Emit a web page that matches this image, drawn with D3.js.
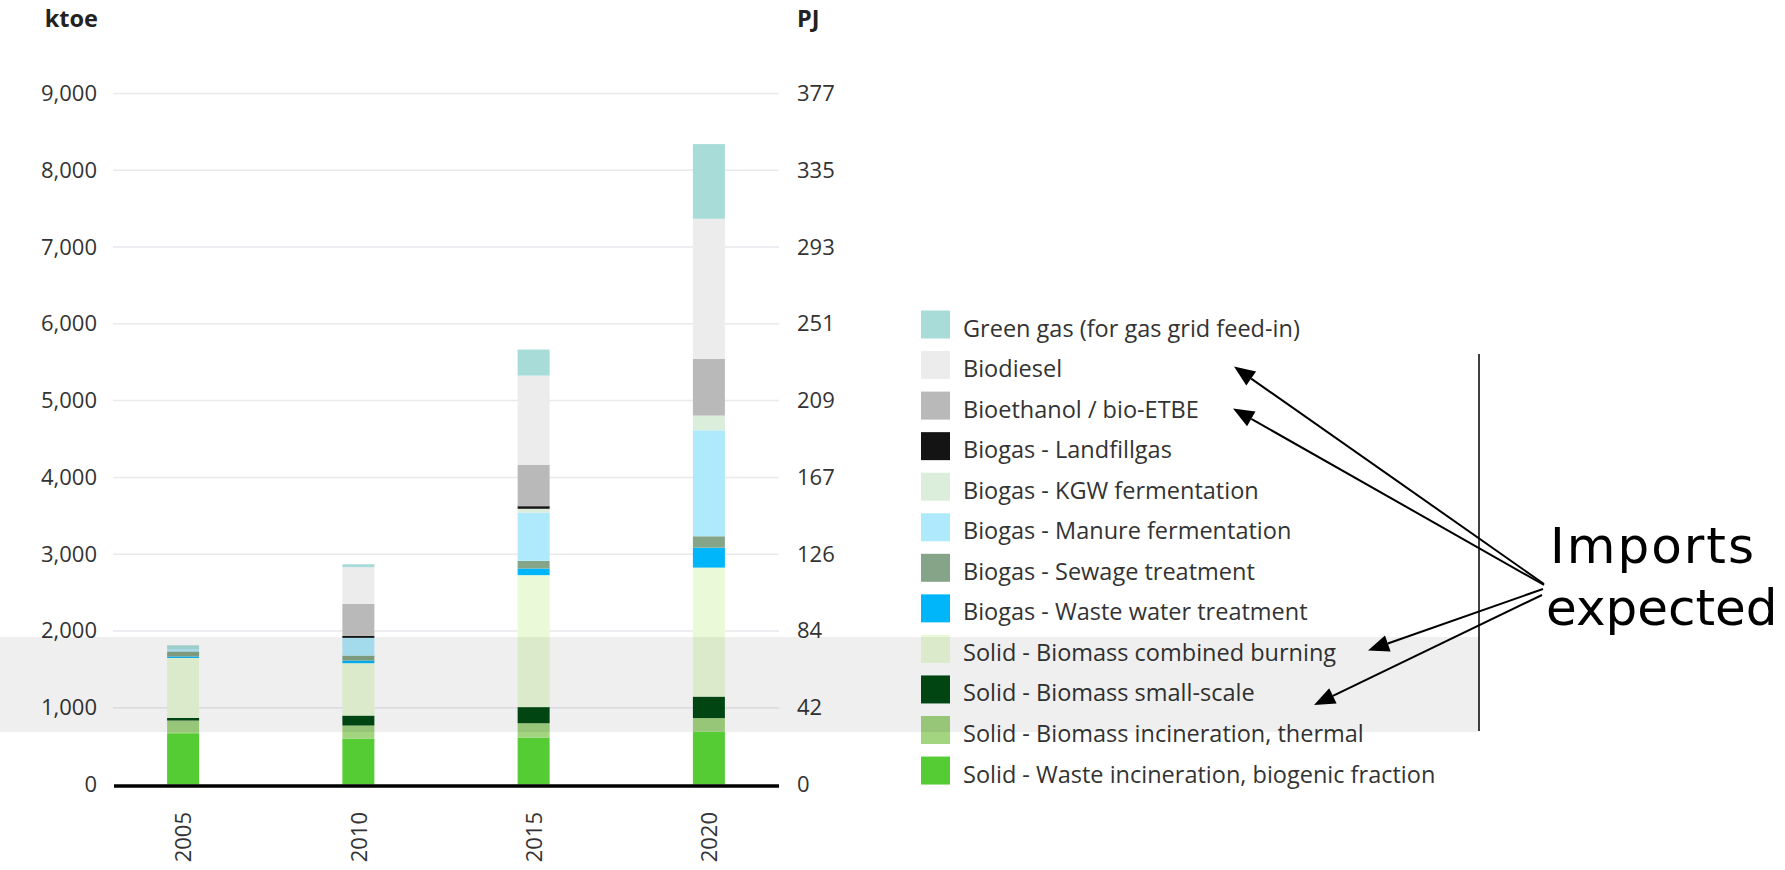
<!DOCTYPE html>
<html>
<head>
<meta charset="utf-8">
<script src="https://cdn.jsdelivr.net/npm/d3@7"></script>
<style>
  html, body { margin: 0; padding: 0; background: #fff; }
  svg { display: block; }
</style>
</head>
<body>
<svg id="chart" width="1785" height="870"></svg>
<script>
// ---------- data ----------
const years = ["2005", "2010", "2015", "2020"];
// stack order bottom -> top
const seriesNames = [
  "Solid - Waste incineration, biogenic fraction",
  "Solid - Biomass incineration, thermal",
  "Solid - Biomass small-scale",
  "Solid - Biomass combined burning",
  "Biogas - Waste water treatment",
  "Biogas - Sewage treatment",
  "Biogas - Manure fermentation",
  "Biogas - KGW fermentation",
  "Biogas - Landfillgas",
  "Bioethanol / bio-ETBE",
  "Biodiesel",
  "Green gas (for gas grid feed-in)"
];
const seriesColors = [
  "#55cc33", "#a3d480", "#024a14", "#eafad9", "#00b6fb", "#86a588",
  "#aeeafc", "#dbeddb", "#141414", "#b9b9b9", "#ececec", "#a8dcd9"
];
const wasteIncineration = [668, 595, 612, 690];
const incinerationThermal = [165, 173, 186, 175];
const smallScale = [35, 130, 210, 280];
const combinedBurning = [780, 682, 1719, 1680];
const wasteWater = [20, 35, 87, 260];
const sewage = [65, 65, 99, 148];
const manure = [30, 230, 628, 1380];
const kgw = [0, 0, 50, 192];
const landfill = [0, 25, 34, 0];
const bioethanol = [0, 417, 537, 740];
const biodiesel = [0, 478, 1164, 1823];
const greenGas = [50, 39, 339, 973];
const seriesValues = [wasteIncineration, incinerationThermal, smallScale, combinedBurning,
  wasteWater, sewage, manure, kgw, landfill, bioethanol, biodiesel, greenGas];

const ktoeTicks = [0, 1000, 2000, 3000, 4000, 5000, 6000, 7000, 8000, 9000];
const pjTickLabels = ["0", "42", "84", "126", "167", "209", "251", "293", "335", "377"];
const leftUnit = "ktoe";
const rightUnit = "PJ";
const annotationLines = ["Imports", "expected"];

// ---------- build ----------
const FONT = "'Open Sans', sans-serif";
const svg = d3.select("#chart");
const x = d3.scalePoint().domain(years).range([113, 779]).padding(0.4);
const y = d3.scaleLinear().domain([0, 9000]).range([784.5, 93.5]);
const barW = 32;

const table = years.map((yr, i) => {
  const row = { year: yr };
  seriesNames.forEach((n, k) => row[n] = seriesValues[k][i]);
  return row;
});
const stacked = d3.stack().keys(seriesNames)(table);

// gridlines
svg.append("g").selectAll("line").data(ktoeTicks.filter(d => d > 0)).join("line")
  .attr("x1", 113).attr("x2", 779)
  .attr("y1", d => y(d)).attr("y2", d => y(d))
  .attr("stroke", "#e9e9ee").attr("stroke-width", 1.5);

// left axis
const leftAxis = d3.axisLeft(y).tickValues(ktoeTicks).tickSize(0).tickPadding(0)
  .tickFormat(d3.format(","));
const gL = svg.append("g").attr("transform", "translate(97,0)").call(leftAxis);
gL.select(".domain").remove();
gL.selectAll("text").attr("font-size", 22).attr("fill", "#333")
  .attr("font-family", FONT);

// right axis
const rightAxis = d3.axisRight(y).tickValues(ktoeTicks).tickSize(0).tickPadding(0)
  .tickFormat((d, i) => pjTickLabels[i]);
const gR = svg.append("g").attr("transform", "translate(797,0)").call(rightAxis);
gR.select(".domain").remove();
gR.selectAll("text").attr("font-size", 22).attr("fill", "#333")
  .attr("font-family", FONT);

// unit labels
svg.append("text").attr("x", 98).attr("y", 27).attr("text-anchor", "end")
  .attr("font-family", FONT)
  .attr("font-size", 23.5).attr("font-weight", "bold").attr("fill", "#222").text(leftUnit);
svg.append("text").attr("x", 797).attr("y", 27).attr("text-anchor", "start")
  .attr("font-family", FONT)
  .attr("font-size", 23.5).attr("font-weight", "bold").attr("fill", "#222").text(rightUnit);

// bars
svg.append("g").selectAll("g").data(stacked).join("g")
  .attr("fill", (d, i) => seriesColors[i])
  .selectAll("rect").data(d => d).join("rect")
  .attr("x", d => x(d.data.year) - barW / 2)
  .attr("width", barW)
  .attr("y", d => y(d[1]))
  .attr("height", d => Math.max(0, y(d[0]) - y(d[1])));

// baseline
svg.append("line").attr("x1", 114).attr("x2", 779)
  .attr("y1", y(0) + 1.5).attr("y2", y(0) + 1.5)
  .attr("stroke", "#000").attr("stroke-width", 3.5);

// x labels (rotated)
const xAxis = d3.axisBottom(x).tickSize(0).tickPadding(0);
const gX = svg.append("g").attr("transform", "translate(0,812)").call(xAxis);
gX.select(".domain").remove();
gX.selectAll("text")
  .attr("font-size", 22).attr("fill", "#333")
  .attr("font-family", FONT)
  .attr("transform", "rotate(-90)")
  .attr("text-anchor", "end")
  .attr("x", 0).attr("y", 0).attr("dy", "0.35em");

// legend (top -> bottom is reverse of stack)
const legendOrder = d3.range(seriesNames.length).reverse();
const lg = svg.append("g").selectAll("g").data(legendOrder).join("g")
  .attr("transform", (d, i) => `translate(921,${324.5 + i * 40.55})`);
lg.append("rect").attr("x", 0).attr("y", -14).attr("width", 29).attr("height", 28)
  .attr("fill", d => seriesColors[d]);
lg.append("text").attr("x", 42).attr("y", 12)
  .attr("font-family", FONT)
  .attr("font-size", 23.5).attr("fill", "#333").text(d => seriesNames[d]);

// gray band overlay
svg.append("rect").attr("x", 0).attr("y", 637).attr("width", 1479).attr("height", 95)
  .attr("fill", "#000").attr("opacity", 0.063);

// vertical line
svg.append("line").attr("x1", 1479).attr("x2", 1479).attr("y1", 354).attr("y2", 731)
  .attr("stroke", "#000").attr("stroke-width", 1.5);

// arrows
const arrows = [
  { from: [1544, 584], to: [1234, 366.5] },
  { from: [1544, 585], to: [1233, 408.5] },
  { from: [1543, 589], to: [1368, 650.5] },
  { from: [1542, 595], to: [1314, 705] }
];
const ag = svg.append("g");
arrows.forEach(a => {
  const dx = a.from[0] - a.to[0], dy = a.from[1] - a.to[1];
  const len = Math.hypot(dx, dy), ux = dx / len, uy = dy / len;
  const hl = 21, hw = 8.5;
  const bx = a.to[0] + ux * hl, by = a.to[1] + uy * hl;
  ag.append("line").attr("x1", a.from[0]).attr("y1", a.from[1])
    .attr("x2", bx).attr("y2", by).attr("stroke", "#000").attr("stroke-width", 2);
  ag.append("polygon").attr("points", [
    [a.to[0], a.to[1]],
    [bx - uy * hw, by + ux * hw],
    [bx + uy * hw, by - ux * hw]
  ].map(p => p.join(",")).join(" ")).attr("fill", "#000");
});

// annotation text
const at = svg.append("text").attr("font-family", "'DejaVu Sans', sans-serif")
  .attr("font-size", 50).attr("fill", "#000");
at.append("tspan").attr("x", 1550).attr("y", 563).attr("letter-spacing", 2).text(annotationLines[0]);
at.append("tspan").attr("x", 1546).attr("y", 625).attr("letter-spacing", 0).text(annotationLines[1]);
</script>
</body>
</html>
